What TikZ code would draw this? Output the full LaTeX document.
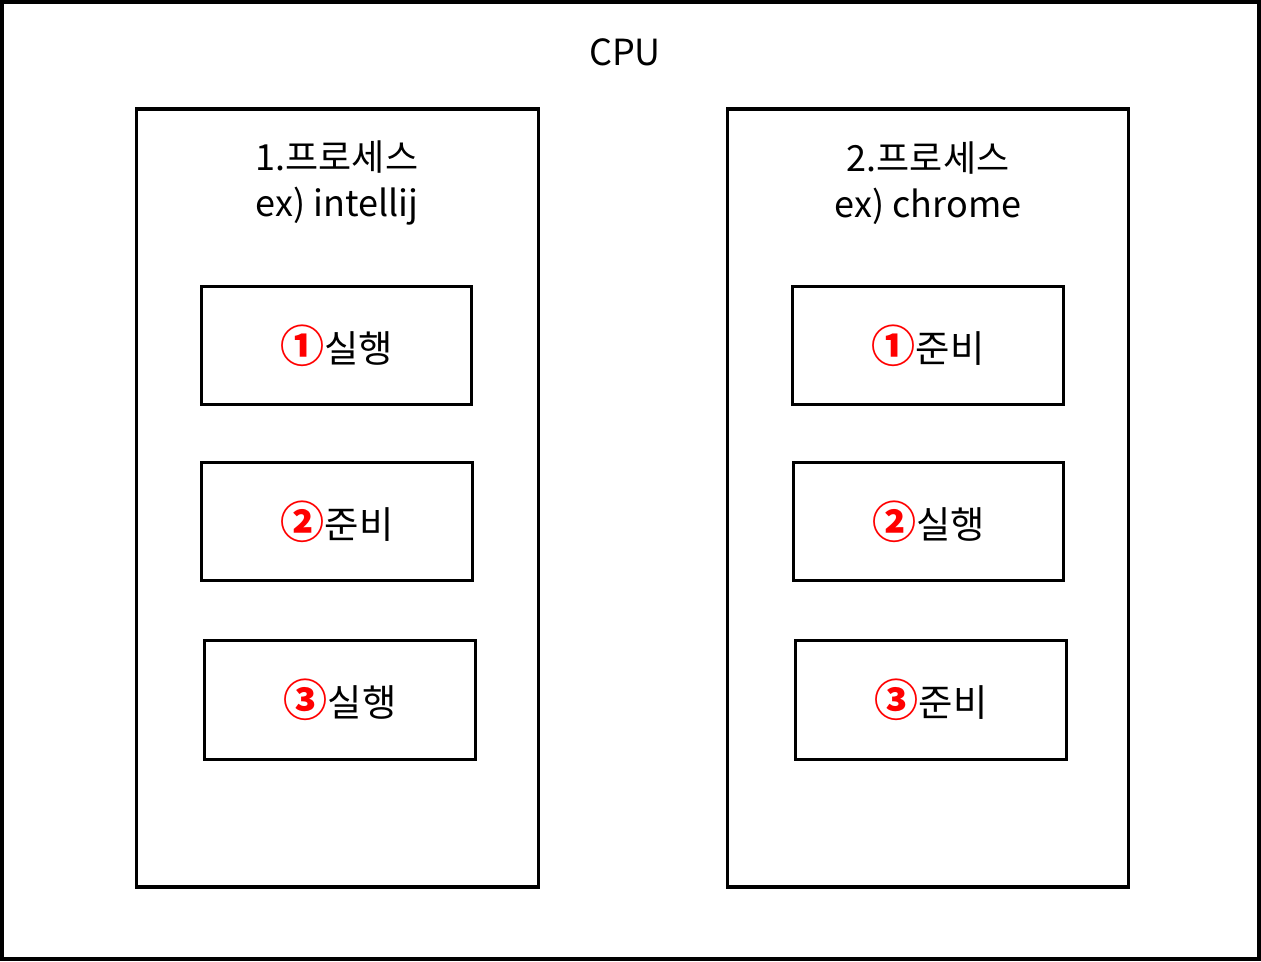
\documentclass[tikz,border=0pt]{standalone}
\usepackage{fontspec}
\setmainfont{Noto Sans CJK KR}
\usetikzlibrary{calc}
\usetikzlibrary{positioning}

\tikzset{
    frame/.style={draw, line width=2.4pt},
    procbox/.style={draw, line width=2.4pt, minimum width=301pt, minimum height=583.5pt},
    statebox/.style={draw, line width=2.4pt, minimum width=203pt, minimum height=89pt, font=\fontsize{28}{32}\selectfont},
    title/.style={font=\fontsize{27}{35}\selectfont, align=center},
}
\newcommand{\num}[1]{\textcolor{red}{\fontsize{33}{33}\selectfont\bfseries #1}}

\begin{document}
\begin{tikzpicture}[x=0.75pt, y=-0.75pt]
            \useasboundingbox (0,0) rectangle (1261,961);
            \draw[frame] (2,2) rectangle (1259,959);
            \node[title] (cpu) at (625,52) {CPU};

            % Left process
            \node[procbox] (proc1) at (337.5,498) {};
            \node[title] (name1) at (337,183) {1.프로세스\\ex) intellij};
            \node[statebox] (p1a) at (336.5,345.5) {\num{①}실행};
            \node[statebox] (p1b) at (337,521.5) {\num{②}준비};
            \node[statebox] (p1c) at (340,700) {\num{③}실행};

            % Right process
            \node[procbox] (proc2) at (928,498) {};
            \node[title] (name2) at (928,183) {2.프로세스\\ex) chrome};
            \node[statebox] (p2a) at (928,345.5) {\num{①}준비};
            \node[statebox] (p2b) at (928.5,521.5) {\num{②}실행};
            \node[statebox] (p2c) at (931,700) {\num{③}준비};
        \end{tikzpicture}
\end{document}
